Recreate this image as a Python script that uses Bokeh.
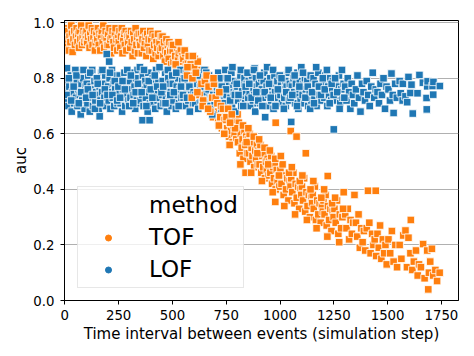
from bokeh.plotting import figure
from bokeh.models import Range1d, FixedTicker, Legend, LegendItem
from bokeh.embed import file_html
from bokeh.resources import INLINE

FONT = "DejaVu Sans"

# ---------------- data ----------------
tof_x = [
    2, 5, 9, 12, 15, 19, 22, 26, 30, 33, 36, 40, 44, 47,
    52, 55, 59, 62, 66, 69, 72, 76, 80, 83, 87, 90, 94, 98,
    101, 104, 108, 111, 115, 118, 122, 126, 129, 133, 136, 140, 144, 147,
    151, 154, 158, 161, 165, 168, 172, 176, 179, 183, 186, 190, 194, 197,
    201, 204, 208, 211, 215, 218, 222, 226, 229, 233, 236, 240, 244, 247,
    251, 254, 258, 261, 265, 268, 272, 276, 279, 283, 286, 290, 294, 297,
    301, 304, 308, 311, 315, 318, 322, 326, 329, 333, 336, 340, 344, 347,
    351, 354, 358, 361, 365, 368, 372, 376, 379, 383, 386, 390, 394, 397,
    401, 404, 408, 411, 415, 418, 422, 426, 429, 433, 436, 440, 444, 447,
    451, 454, 458, 461, 465, 468, 472, 476, 479, 483, 486, 490, 494, 497,
    501, 505, 509, 513, 518, 522, 526, 530, 535, 539, 543, 547,
    551, 555, 559, 563, 568, 572, 576, 580, 585, 589, 593, 597, 590, 582,
    601, 605, 609, 613, 618, 622, 626, 630, 635, 639, 643, 647,
    651, 655, 659, 663, 668, 672, 676, 680, 685, 689, 693, 697,
    701, 705, 709, 713, 718, 722, 726, 730, 735, 739, 743, 747,
    751, 755, 759, 763, 768, 772, 776, 780, 785, 789, 793, 797,
    801, 805, 809, 813, 818, 822, 826, 830, 835, 839, 843, 847, 840,
    851, 855, 859, 863, 868, 872, 876, 880, 885, 889, 893, 897,
    901, 905, 909, 913, 918, 922, 926, 930, 935, 939, 943, 947,
    951, 955, 959, 963, 968, 972, 976, 980, 985, 989, 993, 997, 980, 978,
    1002, 1007, 1012, 1017, 1023, 1028, 1034, 1039, 1045, 1049, 1050,
    1052, 1057, 1062, 1067, 1073, 1078, 1084, 1089, 1095, 1099, 1077,
    1102, 1107, 1112, 1117, 1123, 1128, 1134, 1139, 1145, 1149, 1120,
    1152, 1157, 1162, 1167, 1173, 1178, 1184, 1189, 1195, 1199,
    1202, 1207, 1212, 1217, 1223, 1228, 1234, 1239, 1245, 1249, 1222,
    1253, 1259, 1265, 1271, 1278, 1284, 1290, 1296,
    1303, 1309, 1315, 1321, 1328, 1334, 1340, 1346,
    1353, 1359, 1365, 1371, 1378, 1384, 1390, 1396,
    1403, 1409, 1415, 1421, 1428, 1434, 1440, 1445, 1447,
    1453, 1459, 1465, 1471, 1478, 1484, 1490, 1496,
    1504, 1512, 1520, 1528, 1536, 1544,
    1556, 1564, 1573, 1583, 1590, 1597,
    1606, 1608, 1615, 1622, 1632, 1640, 1646,
    1655, 1665, 1672, 1684, 1689, 1692, 1698,
    1706, 1712, 1722, 1730, 1742,
    503, 515, 528, 544, 557, 570, 583, 595,
    603, 616, 628, 641, 653, 666, 678, 691,
    703, 716, 728, 741, 753, 766, 778, 791,
    803, 816, 828, 845, 853, 866, 878, 895,
    903, 916, 928, 945, 953, 966, 978, 995,
    1004, 1020, 1042, 1055, 1070, 1092, 1104, 1125, 1142,
    1155, 1170, 1192, 1205, 1220, 1242, 1256, 1275, 1293,
]
tof_y = [
    .96, .92, .98, .94, .97, .90, .95, .93, .99, .96, .895, .94, .97, .92,
    .95, .98, .93, .96, .91, .97, .94, .99, .92, .95, .97, .93, .96, .94,
    .97, .93, .95, .99, .91, .96, .94, .98, .92, .95, .97, .90, .93, .96,
    .94, .98, .92, .96, .90, .95, .97, .93, .99, .91, .95, .97, .94, .92,
    .96, .92, .98, .94, .89, .95, .97, .93, .91, .96, .98, .94, .90, .95,
    .93, .97, .91, .95, .98, .89, .94, .96, .92, .97, .90, .95, .93, .96,
    .95, .91, .97, .93, .88, .96, .94, .90, .98, .92, .95, .89, .96, .93,
    .92, .96, .89, .94, .97, .91, .93, .95, .88, .96, .92, .94, .90, .97,
    .94, .90, .96, .87, .92, .95, .89, .93, .91, .96, .88, .93, .90, .95,
    .91, .95, .88, .93, .86, .90, .94, .89, .92, .87, .93, .90, .85, .92,
    .90, .86, .92, .88, .84, .91, .87, .89, .83, .90, .86, .88,
    .87, .83, .89, .85, .81, .86, .88, .82, .85, .87, .80, .84, .73, .69,
    .84, .79, .82, .76, .86, .80, .74, .83, .78, .81, .72, .77,
    .79, .74, .81, .70, .77, .72, .68, .76, .73, .66, .78, .71,
    .73, .68, .71, .64, .75, .66, .70, .62, .69, .72, .65, .67,
    .66, .62, .69, .59, .64, .61, .67, .57, .63, .60, .65, .58,
    .62, .57, .64, .53, .60, .55, .58, .51, .61, .56, .59, .53, .46,
    .58, .53, .60, .50, .55, .52, .57, .48, .54, .51, .56, .49,
    .54, .49, .56, .46, .52, .48, .53, .44, .50, .47, .51, .45,
    .50, .46, .52, .42, .48, .44, .49, .40, .47, .43, .45, .41, .64, .355,
    .47, .42, .49, .38, .45, .40, .44, .36, .43, .41, .61,
    .44, .39, .46, .35, .42, .37, .41, .33, .40, .38, .59,
    .41, .36, .44, .32, .39, .34, .38, .30, .37, .35, .53,
    .38, .33, .41, .29, .36, .31, .35, .28, .34, .32,
    .36, .31, .38, .27, .34, .29, .33, .25, .32, .30, .448,
    .33, .28, .36, .24, .31, .26, .30, .39,
    .31, .26, .33, .22, .29, .24, .28, .38,
    .28, .23, .31, .19, .26, .21, .25, .18,
    .26, .395, .28, .17, .24, .20, .22, .395, .16,
    .24, .19, .27, .15, .22, .17, .20, .13,
    .22, .17, .25, .14, .20, .12,
    .20, .15, .234, .252, .12, .226,
    .17, .29, .11, .14, .18, .09, .13,
    .12, .203, .08, .18, .04, .10, .14,
    .186, .09, .11, .07, .10,
    .92, .85, .93, .82, .90, .84, .79, .88,
    .87, .75, .81, .70, .83, .69, .75, .80,
    .77, .63, .74, .60, .71, .56, .68, .62,
    .67, .49, .63, .57, .62, .46, .59, .53,
    .58, .43, .55, .49, .54, .39, .51, .45,
    .52, .34, .46, .48, .31, .43, .45, .29, .40,
    .43, .26, .37, .40, .23, .35, .37, .21, .33,
]

lof_x = [
    3, 6, 10, 14, 17, 21, 25, 28, 32, 36, 39, 43, 47,
    52, 56, 59, 63, 67, 70, 74, 78, 81, 85, 89, 92, 96,
    102, 105, 109, 113, 116, 120, 124, 127, 131, 135, 138, 142, 146,
    151, 155, 158, 162, 166, 169, 173, 177, 180, 184, 188, 191, 195, 162,
    201, 204, 206, 208, 212, 216, 219, 223, 227, 230, 234, 238, 241, 245,
    252, 255, 259, 263, 266, 270, 274, 277, 281, 285, 288, 292, 296,
    302, 305, 309, 313, 316, 320, 324, 327, 331, 335, 338, 342, 346,
    352, 355, 359, 363, 366, 370, 374, 377, 381, 385, 388, 392, 396, 361, 394,
    402, 405, 409, 413, 416, 420, 424, 427, 431, 435, 438, 442, 446,
    452, 455, 459, 463, 466, 470, 474, 477, 481, 485, 488, 492, 496,
    502, 505, 509, 513, 516, 520, 524, 527, 531, 535, 538, 542, 546,
    552, 555, 559, 563, 566, 570, 574, 577, 581, 585, 588, 592, 596,
    602, 605, 609, 613, 616, 620, 624, 627, 631, 635, 638, 642, 646,
    652, 655, 659, 663, 666, 670, 674, 677, 681, 685, 688, 692, 696,
    702, 705, 709, 713, 716, 720, 724, 727, 731, 735, 738, 742, 746,
    752, 755, 759, 763, 766, 770, 774, 777, 781, 785, 788, 792, 796,
    802, 805, 809, 813, 816, 820, 824, 827, 831, 835, 838, 842, 846,
    852, 855, 859, 863, 866, 870, 874, 877, 881, 885, 888, 892, 896, 882,
    902, 905, 909, 913, 916, 920, 924, 927, 931, 935, 938, 942, 946,
    952, 955, 959, 963, 966, 970, 974, 977, 981, 985, 988, 992, 996,
    1002, 1005, 1009, 1013, 1016, 1020, 1024, 1027, 1031, 1035, 1038, 1042, 1046,
    1052, 1055, 1059, 1063, 1066, 1070, 1074, 1077, 1081, 1085, 1088, 1092, 1096,
    1100, 1105, 1109, 1113, 1116, 1120, 1124, 1127, 1131, 1135, 1138, 1142, 1146,
    1152, 1156, 1160, 1165, 1170, 1174, 1178, 1183, 1188, 1192, 1196,
    1202, 1206, 1210, 1215, 1220, 1224, 1228, 1233, 1238, 1242, 1246, 1250,
    1253, 1258, 1263, 1269, 1274, 1280, 1285, 1291, 1296,
    1303, 1309, 1315, 1321, 1327, 1333, 1339, 1345,
    1353, 1360, 1367, 1374, 1381, 1388, 1395,
    1403, 1410, 1417, 1424, 1431, 1438, 1445,
    1453, 1460, 1467, 1474, 1481, 1488, 1495,
    1504, 1511, 1518, 1524, 1528, 1535, 1543,
    1556, 1561, 1570, 1571, 1583, 1591, 1597,
    1606, 1611, 1617, 1639, 1648, 1664, 1681, 1682, 1684, 1686, 1709, 1712, 1713, 1743,
    8, 19, 30, 41, 49, 54, 65, 76, 87, 99,
    107, 118, 129, 140, 149, 153, 164, 175, 186, 198,
    210, 221, 232, 243, 249, 257, 268, 279, 290, 299,
    307, 318, 329, 340, 349, 357, 368, 379, 390, 399,
    407, 418, 429, 440, 449, 457, 468, 479, 490, 499,
    507, 518, 529, 540, 549, 557, 568, 579, 590, 599,
    607, 618, 629, 640, 649, 657, 668, 679, 690, 699,
    707, 718, 729, 740, 749, 757, 768, 779, 790, 799,
    807, 818, 829, 840, 849, 857, 868, 879, 890, 899,
    907, 918, 929, 940, 949, 957, 968, 979, 990, 999,
    1007, 1018, 1029, 1040, 1049, 1057, 1068, 1079, 1090, 1099,
    1107, 1118, 1129, 1140, 1149, 1158, 1168, 1181, 1190, 1199,
    1208, 1218, 1231, 1240, 1249, 1256, 1266, 1277, 1288, 1299,
]
lof_y = [
    .76, .72, .836, .79, .70, .77, .74, .81, .68, .75, .78, .71, .80,
    .73, .79, .70, .76, .82, .74, .67, .78, .72, .80, .75, .69, .77,
    .78, .71, .81, .74, .68, .77, .73, .83, .70, .76, .79, .72, .75,
    .74, .80, .69, .77, .72, .82, .75, .71, .78, .73, .81, .70, .887, .663,
    .77, .72, .86, .80, .69, .75, .83, .73, .78, .70, .76, .81, .74, .71,
    .75, .81, .71, .78, .68, .76, .73, .82, .70, .77, .74, .79, .72,
    .79, .73, .76, .70, .82, .74, .77, .69, .80, .72, .83, .75, .71,
    .72, .78, .74, .81, .70, .76, .79, .73, .77, .68, .82, .75, .71, .649, .649,
    .76, .71, .80, .74, .78, .69, .83, .75, .72, .79, .73, .77, .70,
    .74, .79, .71, .77, .82, .73, .68, .76, .80, .72, .78, .75, .70,
    .78, .72, .75, .81, .69, .77, .74, .80, .71, .76, .83, .73, .79,
    .73, .77, .70, .82, .75, .79, .72, .76, .68, .80, .74, .78, .71,
    .77, .71, .80, .74, .78, .69, .82, .75, .72, .79, .73, .76, .81,
    .75, .79, .72, .77, .70, .81, .74, .78, .73, .67, .80, .76, .71,
    .79, .73, .76, .82, .71, .75, .78, .69, .80, .74, .77, .72, .83,
    .74, .78, .71, .80, .76, .73, .82, .70, .77, .75, .79, .68, .76,
    .77, .72, .79, .74, .81, .70, .76, .78, .73, .80, .71, .75, .78,
    .73, .79, .75, .70, .77, .81, .72, .76, .74, .68, .80, .77, .71, .836,
    .78, .74, .71, .80, .76, .73, .79, .82, .66, .75, .77, .70, .74,
    .76, .80, .72, .77, .74, .69, .81, .75, .78, .71, .79, .73, .76,
    .74, .78, .71, .81, .76, .73, .79, .70, .77, .75, .82, .72, .78,
    .643, .77, .73, .80, .75, .71, .78, .74, .82, .69, .76, .79, .72,
    .826, .74, .78, .71, .80, .76, .73, .79, .70, .77, .75, .81, .72,
    .76, .80, .73, .78, .70, .75, .82, .74, .77, .72, .79,
    .78, .73, .81, .75, .70, .77, .74, .80, .72, .76, .79, .616,
    .74, .79, .72, .77, .81, .71, .76, .73, .78,
    .77, .72, .80, .75, .69, .78, .74, .71,
    .76, .81, .73, .68, .78, .75, .72,
    .79, .74, .70, .77, .82, .73, .76,
    .75, .71, .78, .74, .80, .69, .77,
    .76, .72, .817, .74, .675, .78, .73,
    .79, .746, .72, .78, .735, .714, .805,
    .747, .777, .673, .746, .812, .784, .729, .688, .771, .789, .772, .741, .787, .772,
    .74, .80, .72, .77, .83, .81, .71, .75, .83, .73,
    .76, .82, .74, .69, .80, .78, .71, .83, .76, .74,
    .82, .74, .79, .72, .77, .73, .79, .76, .83, .70,
    .81, .71, .75, .78, .84, .75, .83, .70, .79, .76,
    .73, .81, .77, .84, .75, .77, .71, .83, .74, .81,
    .75, .82, .70, .77, .74, .80, .73, .77, .84, .75,
    .74, .81, .77, .70, .83, .82, .76, .69, .74, .79,
    .74, .80, .77, .71, .76, .80, .72, .84, .74, .78,
    .74, .83, .70, .77, .82, .78, .73, .83, .75, .72,
    .81, .70, .75, .84, .78, .73, .83, .70, .76, .81,
    .80, .69, .75, .83, .73, .74, .81, .70, .77, .84,
    .82, .73, .77, .69, .75, .71, .84, .77, .74, .80,
    .76, .83, .71, .78, .74, .80, .75, .69, .83, .73,
]

x_ticks = [0, 250, 500, 750, 1000, 1250, 1500, 1750]
y_ticks = [0.0, 0.2, 0.4, 0.6, 0.8, 1.0]
y_tick_labels = ["0.0", "0.2", "0.4", "0.6", "0.8", "1.0"]
series_names = ["TOF", "LOF"]
series_colors = ["#ff7f0e", "#1f77b4"]
legend_title = "method"

# ---------------- figure ----------------
p = figure(frame_width=394, frame_height=280,
           x_range=Range1d(-1.5, 1829.5), y_range=Range1d(0, 1.008),
           output_backend="svg", toolbar_location=None,
           min_border_left=64, min_border_top=20, min_border_right=16,
           min_border_bottom=50)

p.background_fill_color = "white"
p.border_fill_color = "white"
p.outline_line_color = "black"
p.outline_line_width = 1

mk = dict(marker="square", size=7.5, line_color="white", line_width=0.8)
p.scatter(tof_x, tof_y, fill_color=series_colors[0], **mk)
p.scatter(lof_x, lof_y, fill_color=series_colors[1], **mk)

# points are interleaved in the original (single collection): re-draw part of
# the TOF points lying in the overlap zone on top of LOF
ov = [i for i, xv in enumerate(tof_x) if 560 <= xv <= 780 and i % 2 == 0]
p.scatter([tof_x[i] for i in ov], [tof_y[i] for i in ov],
          fill_color=series_colors[0], **mk)

# legend handles (off-screen dummy points)
r_title = p.scatter([-5000], [-5000], marker="circle", size=6,
                    fill_alpha=0, line_alpha=0)
r_tof = p.scatter([-5000], [-5000], marker="circle", size=6,
                  fill_color=series_colors[0], line_color=series_colors[0])
r_lof = p.scatter([-5000], [-5000], marker="circle", size=6,
                  fill_color=series_colors[1], line_color=series_colors[1])

legend = Legend(items=[LegendItem(label=legend_title, renderers=[r_title]),
                       LegendItem(label=series_names[0], renderers=[r_tof]),
                       LegendItem(label=series_names[1], renderers=[r_lof])],
                location=(13, 12), margin=0, padding=5, spacing=6,
                glyph_width=50, glyph_height=15, label_standoff=16,
                label_text_font=FONT, label_text_font_size="23px",
                label_text_color="black",
                border_line_color="#d0d0d0", border_line_width=1,
                background_fill_color="white", background_fill_alpha=0.8)
p.add_layout(legend)

# axes
p.xaxis.ticker = FixedTicker(ticks=x_ticks)
p.yaxis.ticker = FixedTicker(ticks=y_ticks)
p.yaxis.major_label_overrides = {t: s for t, s in zip(y_ticks, y_tick_labels)}
p.xaxis.axis_label = "Time interval between events (simulation step)"
p.yaxis.axis_label = "auc"
for ax in (p.xaxis, p.yaxis):
    ax.axis_line_color = "black"
    ax.axis_line_width = 1
    ax.major_tick_line_color = "black"
    ax.major_tick_out = 4
    ax.major_tick_in = 0
    ax.minor_tick_line_color = None
    ax.major_label_text_font = FONT
    ax.major_label_text_font_size = "13.3px"
    ax.major_label_text_color = "black"
    ax.axis_label_text_font = FONT
    ax.axis_label_text_font_size = "15px"
    ax.axis_label_text_font_style = "normal"
    ax.axis_label_text_color = "black"
p.xaxis.major_label_standoff = 5
p.yaxis.major_label_standoff = 6
p.xaxis.axis_label_standoff = 2
p.yaxis.axis_label_standoff = 0

p.xgrid.visible = False
p.ygrid.grid_line_color = "#b0b0b0"
p.ygrid.grid_line_width = 1

open("out.html", "w").write(file_html(p, INLINE))
